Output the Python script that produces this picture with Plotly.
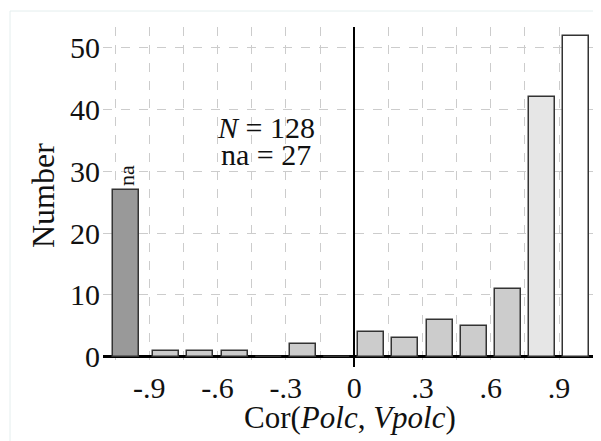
import plotly.graph_objects as go

# Data
bin_centers = [-1.0, -0.825, -0.675, -0.525, -0.375, -0.225, -0.075,
               0.075, 0.225, 0.375, 0.525, 0.675, 0.825, 0.975]
counts = [27, 1, 1, 1, 0, 2, 0, 4, 3, 6, 5, 11, 42, 52]
bar_colors = ["#999999"] + ["#cccccc"] * 11 + ["#e6e6e6", "#ffffff"]
tick_vals = [-0.9, -0.6, -0.3, 0, 0.3, 0.6, 0.9]
tick_text = ["-.9", "-.6", "-.3", "0", ".3", ".6", ".9"]
grid_vals = [round(-1.05 + 0.15 * i, 2) for i in range(15)]
y_ticks = [0, 10, 20, 30, 40, 50]

FONT = "Liberation Serif"
OFF = 8  # page body margin
W, H = 601 - OFF, 441 - OFF
L, R, T, B = 103 - OFF, 0, 27 - OFF, 74
pw = W - L - R
ph = H - T - B


def px_x(p):
    return (p - OFF - L) / pw


def px_y(p):
    return (H - B - (p - OFF)) / ph


fig = go.Figure()
fig.add_trace(go.Bar(
    x=bin_centers, y=counts, width=0.114,
    marker=dict(color=bar_colors, line=dict(color="#333333", width=1.5)),
    showlegend=False,
))

fig.update_layout(
    width=W, height=H,
    margin=dict(l=L, r=R, t=T, b=B, autoexpand=False),
    paper_bgcolor="white", plot_bgcolor="white",
    font=dict(family=FONT, size=30, color="#111111"),
    xaxis=dict(
        range=[-1.103, 1.084], automargin=False,
        tickvals=tick_vals, ticktext=tick_text,
        showgrid=False,
        minor=dict(tickvals=grid_vals, showgrid=True, gridcolor="#cccccc",
                   griddash="dash", gridwidth=1),
        zeroline=True, zerolinecolor="black", zerolinewidth=2,
        showline=False, ticks="",
        tickfont=dict(family=FONT, size=30),
    ),
    yaxis=dict(
        range=[-1.67, 53.4], automargin=False,
        tickvals=y_ticks,
        showgrid=True, gridcolor="#cccccc", griddash="dash", gridwidth=1,
        zeroline=True, zerolinecolor="black", zerolinewidth=3,
        showline=False, ticks="",
        ticklabelstandoff=2,
        tickfont=dict(family=FONT, size=30),
    ),
    shapes=[dict(type="rect", xref="paper", yref="paper",
                 x0=px_x(10), x1=1.2, y0=-0.5, y1=px_y(11),
                 line=dict(color="#e4eeee", width=1), layer="below")],
    annotations=[
        dict(x=-1.0, y=27, xref="x", yref="y", text="na", textangle=-90,
             showarrow=False, yanchor="bottom", yshift=2,
             font=dict(family=FONT, size=22, color="#111111")),
        dict(x=-0.386, y=37.2, xref="x", yref="y", text="<i>N</i> = 128",
             showarrow=False, font=dict(family=FONT, size=30, color="#111111")),
        dict(x=-0.386, y=32.7, xref="x", yref="y", text="na = 27",
             showarrow=False, font=dict(family=FONT, size=30, color="#111111")),
        dict(x=px_x(43), y=px_y(196), xref="paper", yref="paper",
             text="Number", textangle=-90, showarrow=False,
             xanchor="center", yanchor="middle",
             font=dict(family=FONT, size=32, color="#111111")),
        dict(x=px_x(350), y=px_y(418), xref="paper", yref="paper",
             text="Cor(<i>Polc</i>, <i>Vpolc</i>)", showarrow=False,
             xanchor="center", yanchor="middle",
             font=dict(family=FONT, size=31, color="#111111")),
    ],
    bargap=0,
)

fig.write_html("out.html")
